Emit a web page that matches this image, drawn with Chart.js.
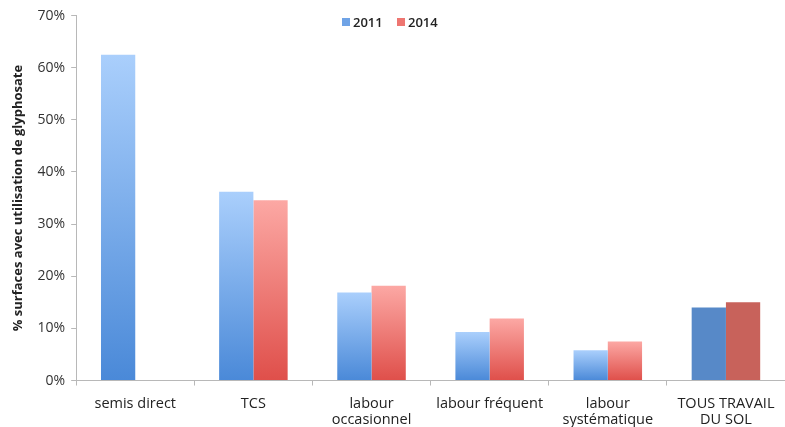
<!doctype html>
<html>

<head>
    <meta charset="utf-8">
    <title>Glyphosate</title>
    <script src="https://cdn.jsdelivr.net/npm/chart.js"></script>
    <style>
        body { margin: 0; background: #fff; overflow: hidden; }
        canvas { display: block; }
    </style>
</head>

<body>
    <!-- un peu plus haut que la fenêtre : les libellés du bas sont coupés comme sur l'image -->
    <canvas id="glyphosate" width="785" height="438"></canvas>

    <script>
        var categories = ["semis direct", "TCS", ["labour", "occasionnel"], "labour fréquent", ["labour", "systématique"], ["TOUS TRAVAIL", "DU SOL"]]
        var valeurs2011 = [62.5, 36.2, 16.9, 9.3, 5.8, 14.0]
        var valeurs2014 = [null, 34.6, 18.2, 11.9, 7.5, 15.0]
        var yTicks = [0, 10, 20, 30, 40, 50, 60, 70]

        // dégradé vertical dans chaque barre (clair en haut, foncé en bas)
        function degrade(haut, bas, plein) {
            return function (context) {
                if (context.type !== 'data') return bas;
                if (context.dataIndex === categories.length - 1) return plein;
                var chart = context.chart;
                if (!chart.chartArea || context.parsed == null || context.parsed.y == null) return bas;
                var y = chart.scales.y;
                var top = y.getPixelForValue(context.parsed.y);
                var base = y.getPixelForValue(0);
                if (!isFinite(top) || top === base) return bas;
                var g = chart.ctx.createLinearGradient(0, top, 0, base);
                g.addColorStop(0, haut);
                g.addColorStop(1, bas);
                return g;
            }
        }

        // légende dessinée à la main, décalée comme sur l'image
        var legendePlugin = {
            id: 'legende',
            afterDraw: function (chart) {
                var ctx = chart.ctx;
                var items = [
                    { x: 342, texte: '2011', couleur: '#6fa3e6' },
                    { x: 397, texte: '2014', couleur: '#ee7671' }
                ];
                ctx.save();
                ctx.font = '600 13px "Open Sans"';
                ctx.textBaseline = 'middle';
                items.forEach(function (it) {
                    ctx.fillStyle = it.couleur;
                    ctx.fillRect(it.x, 18, 8, 8);
                    ctx.fillStyle = '#222';
                    ctx.fillText(it.texte, it.x + 11, 23);
                });
                ctx.restore();
            }
        }

        var glyphosate = new Chart(document.getElementById('glyphosate').getContext('2d'), {
            type: 'bar',
            data: {
                labels: categories,
                datasets: [{
                    label: '2011',
                    data: valeurs2011,
                    backgroundColor: degrade('#aacffc', '#4a89d8', '#5789c8')
                }, {
                    label: '2014',
                    data: valeurs2014,
                    backgroundColor: degrade('#fca8a4', '#df4f4a', '#c8625b')
                }]
            },
            plugins: [legendePlugin],
            options: {
                responsive: false,
                animation: false,
                layout: {
                    padding: { top: 15.6, left: 10, right: 0, bottom: 0 }
                },
                plugins: {
                    legend: { display: false },
                    tooltip: { enabled: false }
                },
                datasets: {
                    bar: {
                        barPercentage: 1,
                        categoryPercentage: 0.58
                    }
                },
                scales: {
                    x: {
                        grid: {
                            display: true,
                            drawOnChartArea: false,
                            drawTicks: true,
                            tickLength: 5,
                            color: '#b8b8b8'
                        },
                        border: { color: '#b8b8b8' },
                        ticks: {
                            color: '#222',
                            maxRotation: 0,
                            autoSkip: false,
                            padding: 10,
                            font: { family: 'Open Sans', size: 14.5, lineHeight: 1.12 }
                        }
                    },
                    y: {
                        min: 0,
                        max: 70,
                        afterBuildTicks: function (axis) {
                            axis.ticks = yTicks.map(function (v) { return { value: v } });
                        },
                        grid: {
                            display: true,
                            drawOnChartArea: false,
                            drawTicks: true,
                            tickLength: 5,
                            color: '#b8b8b8'
                        },
                        border: { color: '#b8b8b8' },
                        title: {
                            display: true,
                            text: '% surfaces avec utilisation de glyphosate',
                            color: '#222',
                            padding: { top: 0, bottom: 6 },
                            font: { family: 'Open Sans', size: 13, weight: 'bold' }
                        },
                        ticks: {
                            color: '#333',
                            padding: 6,
                            font: { family: 'Open Sans', size: 14 },
                            callback: function (v) { return v + '%'; }
                        }
                    }
                }
            }
        });
    </script>
</body>

</html>
